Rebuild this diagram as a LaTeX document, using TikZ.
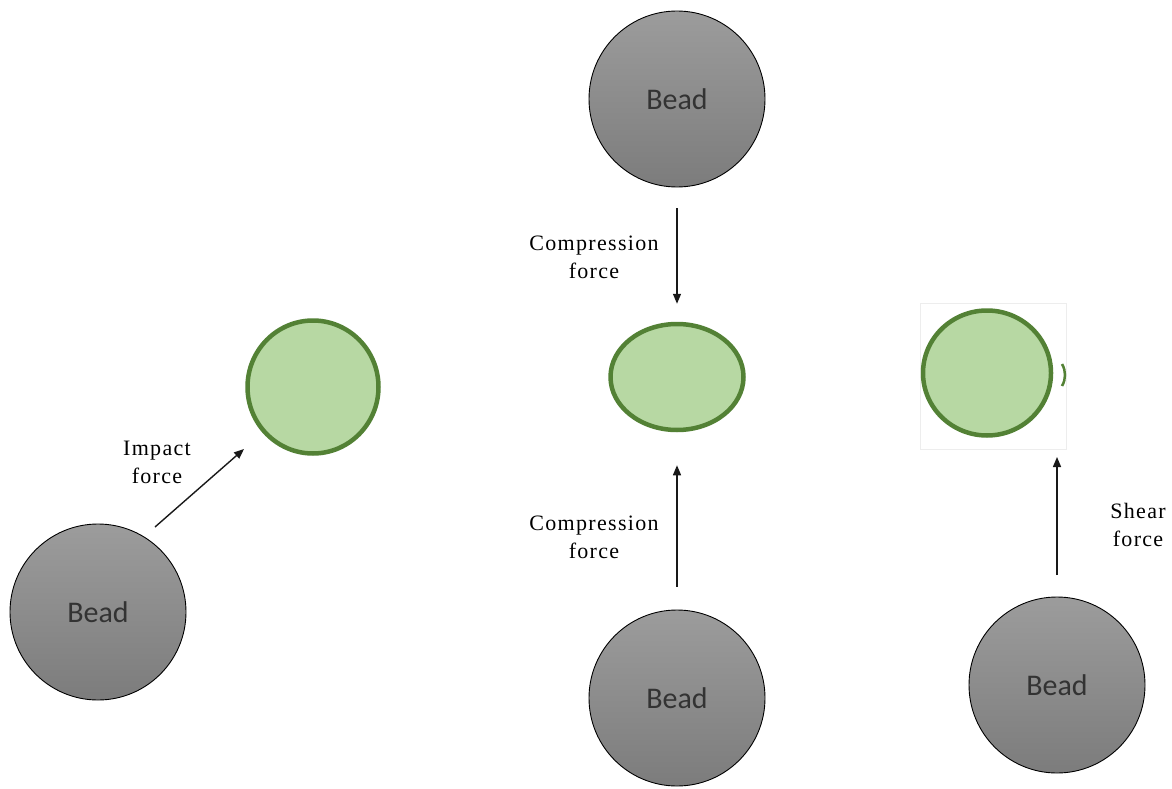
\documentclass[tikz,border=0pt]{standalone}
\usepackage{fontspec}
\setmainfont{Liberation Serif}[LetterSpace=6]
\newfontfamily\beadfont{Carlito}
\usetikzlibrary{shapes}
\usetikzlibrary{arrows.meta}
\tikzset{>={Triangle[width=8pt,length=10pt]}}
\definecolor{leafgreen}{HTML}{538135}
\definecolor{palegreen}{HTML}{B7D8A3}
\definecolor{beadtop}{HTML}{9C9C9C}
\definecolor{beadbot}{HTML}{7C7C7C}
\tikzset{
  bead/.style={circle, draw=black, line width=0.9pt, minimum size=176pt,
    top color=beadtop, bottom color=beadbot, font=\beadfont\fontsize{30}{34}\selectfont,
    text=black!80},
  cell/.style={ellipse, draw=leafgreen, line width=4.5pt, fill=palegreen, inner sep=0pt},
  force/.style={->, line width=1.4pt, black!90},
  lbl/.style={align=center, font=\fontsize{22}{28}\selectfont}
}

\begin{document}
\begin{tikzpicture}[x=1pt, y=-1pt]
  \useasboundingbox (0,0) rectangle (1172,789);

  % beads
  \node[bead] (beadL) at (98,612) {Bead};
  \node[bead] (beadT) at (677,99) {Bead};
  \node[bead] (beadB) at (677,698) {Bead};
  \node[bead] (beadR) at (1057,685) {Bead};

  % cells
  \node[cell, minimum width=131pt, minimum height=133pt] (cellL) at (313,387) {};
  \node[cell, minimum width=133pt, minimum height=106pt] (cellM) at (677,377) {};
  \draw[black!7] (920,303) rectangle (1066,449);
  \node[cell, minimum width=128pt, minimum height=125pt] (cellR) at (987,373) {};
  \draw[leafgreen, line width=2.5pt] (1062,364) .. controls (1066,371) and (1066,379) .. (1062,386);

  % arrow ends
  \coordinate (impS) at (155,527);
  \coordinate (impE) at (244,449);
  \coordinate (shrS) at (1057,575);
  \coordinate (shrE) at (1057,457);

  \draw[force, shorten <=21pt, shorten >=18pt] (beadT) -- (cellM);
  \draw[force, shorten <=23pt, shorten >=33pt] (beadB) -- (cellM);
  \draw[force] (impS) -- (impE);
  \draw[force] (shrS) -- (shrE);

  % labels
  \node[lbl] (impLbl) at (157,462) {Impact\\force};
  \node[lbl] (cmpTop) at (594,257) {Compression\\force};
  \node[lbl] (cmpBot) at (594,537) {Compression\\force};
  \node[lbl] (shrLbl) at (1138,525) {Shear\\force};

\end{tikzpicture}
\end{document}
